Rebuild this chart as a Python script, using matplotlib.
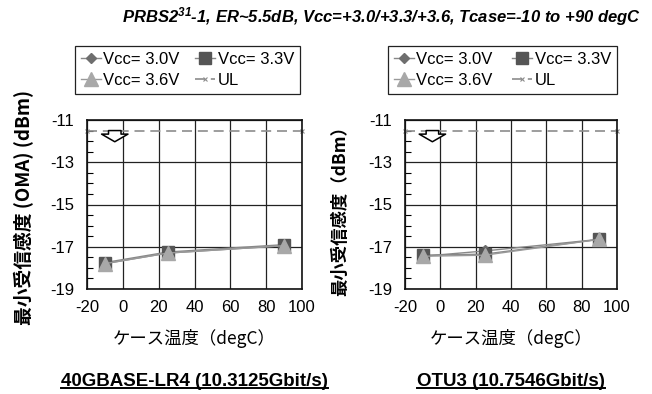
import matplotlib
matplotlib.use("Agg")
import matplotlib.pyplot as plt
from matplotlib.ticker import MultipleLocator
from matplotlib.lines import Line2D

plt.rcParams['font.family'] = ['Liberation Sans', 'DejaVu Sans']
plt.rcParams['axes.unicode_minus'] = False
plt.rcParams['mathtext.fontset'] = 'custom'
plt.rcParams['mathtext.rm'] = 'Liberation Sans:italic:bold'
plt.rcParams['mathtext.it'] = 'Liberation Sans:italic:bold'
plt.rcParams['mathtext.bf'] = 'Liberation Sans:italic:bold'

# data
temps = [-10, 25, 90]
ul_x = [-20, 100]
ul_y = [-11.5, -11.5]

lr4_v30 = [-17.8, -17.3, -16.95]
lr4_v33 = [-17.75, -17.25, -16.9]
lr4_v36 = [-17.8, -17.3, -16.95]

otu3_v30 = [-17.45, -17.2, -16.65]
otu3_v33 = [-17.4, -17.35, -16.65]
otu3_v36 = [-17.45, -17.4, -16.65]

xticks = [-20, 0, 20, 40, 60, 80, 100]
yticks = [-11, -13, -15, -17, -19]

title = r"PRBS2$^{31}$-1, ER~5.5dB, Vcc=+3.0/+3.3/+3.6, Tcase=-10 to +90 degC"
xlabel = "ケース温度（degC）"
ylabels = ["最小受信感度 (OMA) (dBm)", "最小受信感度（dBm）"]
captions = ["40GBASE-LR4 (10.3125Gbit/s)", "OTU3 (10.7546Gbit/s)"]

W, H = 652, 394
fig = plt.figure(figsize=(W / 100, H / 100), dpi=100)

cjk = ['Noto Sans CJK JP', 'DejaVu Sans']


def fx(px):
    return px / W


def fy(py):
    return 1 - py / H


panels = [
    dict(left=87, right=302, leg=(75, 300), ylab_x=24, ylab_fs=13.5,
         data=(lr4_v30, lr4_v33, lr4_v36)),
    dict(left=405, right=617, leg=(388, 617), ylab_x=340, ylab_fs=12.5,
         data=(otu3_v30, otu3_v33, otu3_v36)),
]
top, bottom = 120, 289

for i, p in enumerate(panels):
    ax = fig.add_axes([fx(p['left']), fy(bottom), fx(p['right'] - p['left']),
                       (bottom - top) / H])
    v30, v33, v36 = p['data']
    l30, = ax.plot(temps, v30, color='#888888', lw=1, marker='D', ms=6.5,
                   mfc='#6e6e6e', mec='#6e6e6e', zorder=3)
    l33, = ax.plot(temps, v33, color='#888888', lw=1, marker='s', ms=8.5,
                   mfc='#555555', mec='#555555', zorder=4)
    l36, = ax.plot(temps, v36, color='#999999', lw=1, marker='^', ms=9.5,
                   mfc='#a8a8a8', mec='#a8a8a8', zorder=5)
    lul, = ax.plot(ul_x, ul_y, color='#8c8c8c', lw=1.2, ls=(0, (6, 3.5)),
                   marker='x', ms=3.5, mew=0.8, clip_on=False, zorder=2)

    ax.set_xlim(-20, 100)
    ax.set_ylim(-19, -11)
    ax.set_xticks(xticks)
    ax.set_yticks(yticks)
    ax.yaxis.set_minor_locator(MultipleLocator(0.5))
    ax.grid(True, which='major', color='#222222', lw=0.9)
    ax.tick_params(axis='x', length=0, pad=8, labelsize=12)
    ax.tick_params(axis='y', which='both', direction='in', length=4,
                   width=0.8, labelsize=12, pad=9)
    ax.tick_params(axis='y', which='major', length=0)
    for s in ax.spines.values():
        s.set_linewidth(1.2)
        s.set_color('#111111')

    # open down arrow under the UL line
    ax.annotate('', xy=(-4.5, -12.03), xytext=(-4.5, -11.5),
                arrowprops=dict(arrowstyle='simple,head_width=1.9,head_length=0.55,tail_width=0.9',
                                mutation_scale=10, shrinkA=0, shrinkB=0,
                                fc='white', ec='black', lw=1.1), zorder=6)

    # legend above the axes
    h30 = Line2D([], [], color='#888888', lw=1, marker='D', ms=5,
                 mfc='#6e6e6e', mec='#6e6e6e')
    lx0, lx1 = p['leg']
    leg = fig.legend([h30, l36, l33, lul],
                     ['Vcc= 3.0V', 'Vcc= 3.6V', 'Vcc= 3.3V', 'UL'],
                     ncol=2, loc='upper left', mode='expand',
                     bbox_to_anchor=(fx(lx0), fy(99), fx(lx1 - lx0), 53 / H),
                     bbox_transform=fig.transFigure, borderaxespad=0,
                     fontsize=12, handlelength=1.2, handletextpad=0.15,
                     columnspacing=0.8, labelspacing=0.35, borderpad=0.35,
                     fancybox=False, framealpha=1)
    leg.get_frame().set_edgecolor('#222222')
    leg.get_frame().set_linewidth(0.9)

    cx = (p['left'] + p['right']) / 2
    fig.text(fx(p['ylab_x']), fy(207), ylabels[i], rotation=90,
             ha='center', va='center', fontsize=p['ylab_fs'], fontweight='bold',
             family=cjk)
    fig.text(fx(cx), fy(339), xlabel, ha='center', va='center', fontsize=12.5,
             family=cjk)
    fig.text(fx(cx), fy(381), captions[i], ha='center', va='center',
             fontsize=13.5, fontweight='bold')

fig.text(fx(641), fy(17), title, ha='right', va='center', fontsize=12,
         fontweight='bold', style='italic')

# underline the captions
fig.canvas.draw()
r = fig.canvas.get_renderer()
for t in fig.texts:
    if t.get_text() in captions:
        bb = t.get_window_extent(r).transformed(fig.transFigure.inverted())
        fig.add_artist(Line2D([bb.x0, bb.x1], [bb.y0 + 0.003, bb.y0 + 0.003],
                              transform=fig.transFigure, color='black', lw=1.4))

fig.savefig('out.png', dpi=100)
